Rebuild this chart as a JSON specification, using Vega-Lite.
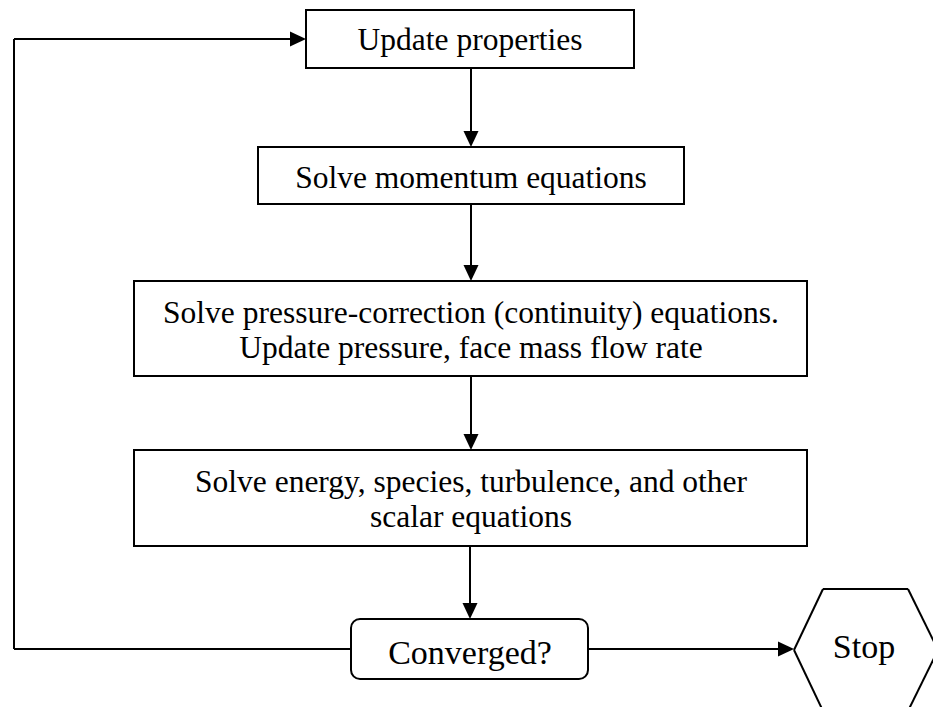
{
  "$schema": "https://vega.github.io/schema/vega-lite/v6.json",
  "width": 933,
  "height": 707,
  "padding": 0,
  "autosize": {"type": "none"},
  "background": "white",
  "config": {"view": {"stroke": null}},
  "datasets": {
    "boxes": [
      {"id": "b1", "x1": 306, "x2": 634, "y1": 10, "y2": 68},
      {"id": "b2", "x1": 258, "x2": 684, "y1": 147, "y2": 204},
      {"id": "b3", "x1": 134, "x2": 807, "y1": 281, "y2": 376},
      {"id": "b4", "x1": 134, "x2": 807, "y1": 450, "y2": 546}
    ],
    "decision": [
      {"id": "conv", "x1": 351, "x2": 588, "y1": 619, "y2": 679}
    ],
    "segments": [
      {"x1": 471, "y1": 68, "x2": 471, "y2": 138},
      {"x1": 471, "y1": 204, "x2": 471, "y2": 272},
      {"x1": 471, "y1": 376, "x2": 471, "y2": 441},
      {"x1": 470, "y1": 546, "x2": 470, "y2": 610},
      {"x1": 351, "y1": 649, "x2": 14, "y2": 649},
      {"x1": 14, "y1": 649, "x2": 14, "y2": 39},
      {"x1": 14, "y1": 39, "x2": 297, "y2": 39},
      {"x1": 588, "y1": 649, "x2": 785, "y2": 649},
      {"x1": 794, "y1": 650, "x2": 823, "y2": 589},
      {"x1": 823, "y1": 589, "x2": 908, "y2": 589},
      {"x1": 908, "y1": 589, "x2": 938, "y2": 650},
      {"x1": 938, "y1": 650, "x2": 908, "y2": 711},
      {"x1": 908, "y1": 711, "x2": 823, "y2": 711},
      {"x1": 823, "y1": 711, "x2": 794, "y2": 650}
    ],
    "heads": [
      {"x": 471, "y": 147, "dir": "down"},
      {"x": 471, "y": 281, "dir": "down"},
      {"x": 471, "y": 450, "dir": "down"},
      {"x": 470, "y": 619, "dir": "down"},
      {"x": 306, "y": 39, "dir": "right"},
      {"x": 794, "y": 649, "dir": "right"}
    ],
    "labels": [
      {"label": "Update properties", "x": 470, "y": 50},
      {"label": "Solve momentum equations", "x": 471, "y": 188},
      {"label": "Solve pressure-correction (continuity) equations.", "x": 471, "y": 323},
      {"label": "Update pressure, face mass flow rate", "x": 471, "y": 358},
      {"label": "Solve energy, species, turbulence, and other", "x": 471, "y": 492},
      {"label": "scalar equations", "x": 471, "y": 527}
    ],
    "terminals": [
      {"label": "Converged?", "x": 470, "y": 664},
      {"label": "Stop", "x": 864, "y": 658}
    ]
  },
  "layer": [
    {
      "data": {"name": "segments"},
      "mark": {"type": "rule", "color": "black", "strokeWidth": 2, "clip": true},
      "encoding": {
        "x": {"field": "x1", "type": "quantitative", "scale": {"domain": [0, 933], "nice": false, "zero": false}, "axis": null},
        "x2": {"field": "x2"},
        "y": {"field": "y1", "type": "quantitative", "scale": {"domain": [0, 707], "nice": false, "zero": false, "reverse": true}, "axis": null},
        "y2": {"field": "y2"}
      }
    },
    {
      "data": {"name": "boxes"},
      "mark": {"type": "rect", "fill": "white", "stroke": "black", "strokeWidth": 2},
      "encoding": {
        "x": {"field": "x1", "type": "quantitative", "scale": {"domain": [0, 933], "nice": false, "zero": false}, "axis": null},
        "x2": {"field": "x2"},
        "y": {"field": "y1", "type": "quantitative", "scale": {"domain": [0, 707], "nice": false, "zero": false, "reverse": true}, "axis": null},
        "y2": {"field": "y2"}
      }
    },
    {
      "data": {"name": "decision"},
      "mark": {"type": "rect", "fill": "white", "stroke": "black", "strokeWidth": 2, "cornerRadius": 9},
      "encoding": {
        "x": {"field": "x1", "type": "quantitative", "scale": {"domain": [0, 933], "nice": false, "zero": false}, "axis": null},
        "x2": {"field": "x2"},
        "y": {"field": "y1", "type": "quantitative", "scale": {"domain": [0, 707], "nice": false, "zero": false, "reverse": true}, "axis": null},
        "y2": {"field": "y2"}
      }
    },
    {
      "data": {"name": "heads"},
      "mark": {"type": "point", "filled": true, "color": "black", "opacity": 1, "size": 1024, "strokeWidth": 0},
      "encoding": {
        "x": {"field": "x", "type": "quantitative", "scale": {"domain": [0, 933], "nice": false, "zero": false}, "axis": null},
        "y": {"field": "y", "type": "quantitative", "scale": {"domain": [0, 707], "nice": false, "zero": false, "reverse": true}, "axis": null},
        "shape": {"field": "dir", "type": "nominal", "legend": null, "scale": {"domain": ["down", "right"], "range": ["M0,0L-0.47,-1L0.47,-1Z", "M0,0L-1,-0.47L-1,0.47Z"]}}
      }
    },
    {
      "data": {"name": "labels"},
      "mark": {"type": "text", "font": "Liberation Serif", "fontSize": 31.5, "color": "black", "align": "center", "baseline": "alphabetic"},
      "encoding": {
        "x": {"field": "x", "type": "quantitative", "scale": {"domain": [0, 933], "nice": false, "zero": false}, "axis": null},
        "y": {"field": "y", "type": "quantitative", "scale": {"domain": [0, 707], "nice": false, "zero": false, "reverse": true}, "axis": null},
        "text": {"field": "label", "type": "nominal"}
      }
    },
    {
      "data": {"name": "terminals"},
      "mark": {"type": "text", "font": "Liberation Serif", "fontSize": 34, "color": "black", "align": "center", "baseline": "alphabetic"},
      "encoding": {
        "x": {"field": "x", "type": "quantitative", "scale": {"domain": [0, 933], "nice": false, "zero": false}, "axis": null},
        "y": {"field": "y", "type": "quantitative", "scale": {"domain": [0, 707], "nice": false, "zero": false, "reverse": true}, "axis": null},
        "text": {"field": "label", "type": "nominal"}
      }
    }
  ]
}
